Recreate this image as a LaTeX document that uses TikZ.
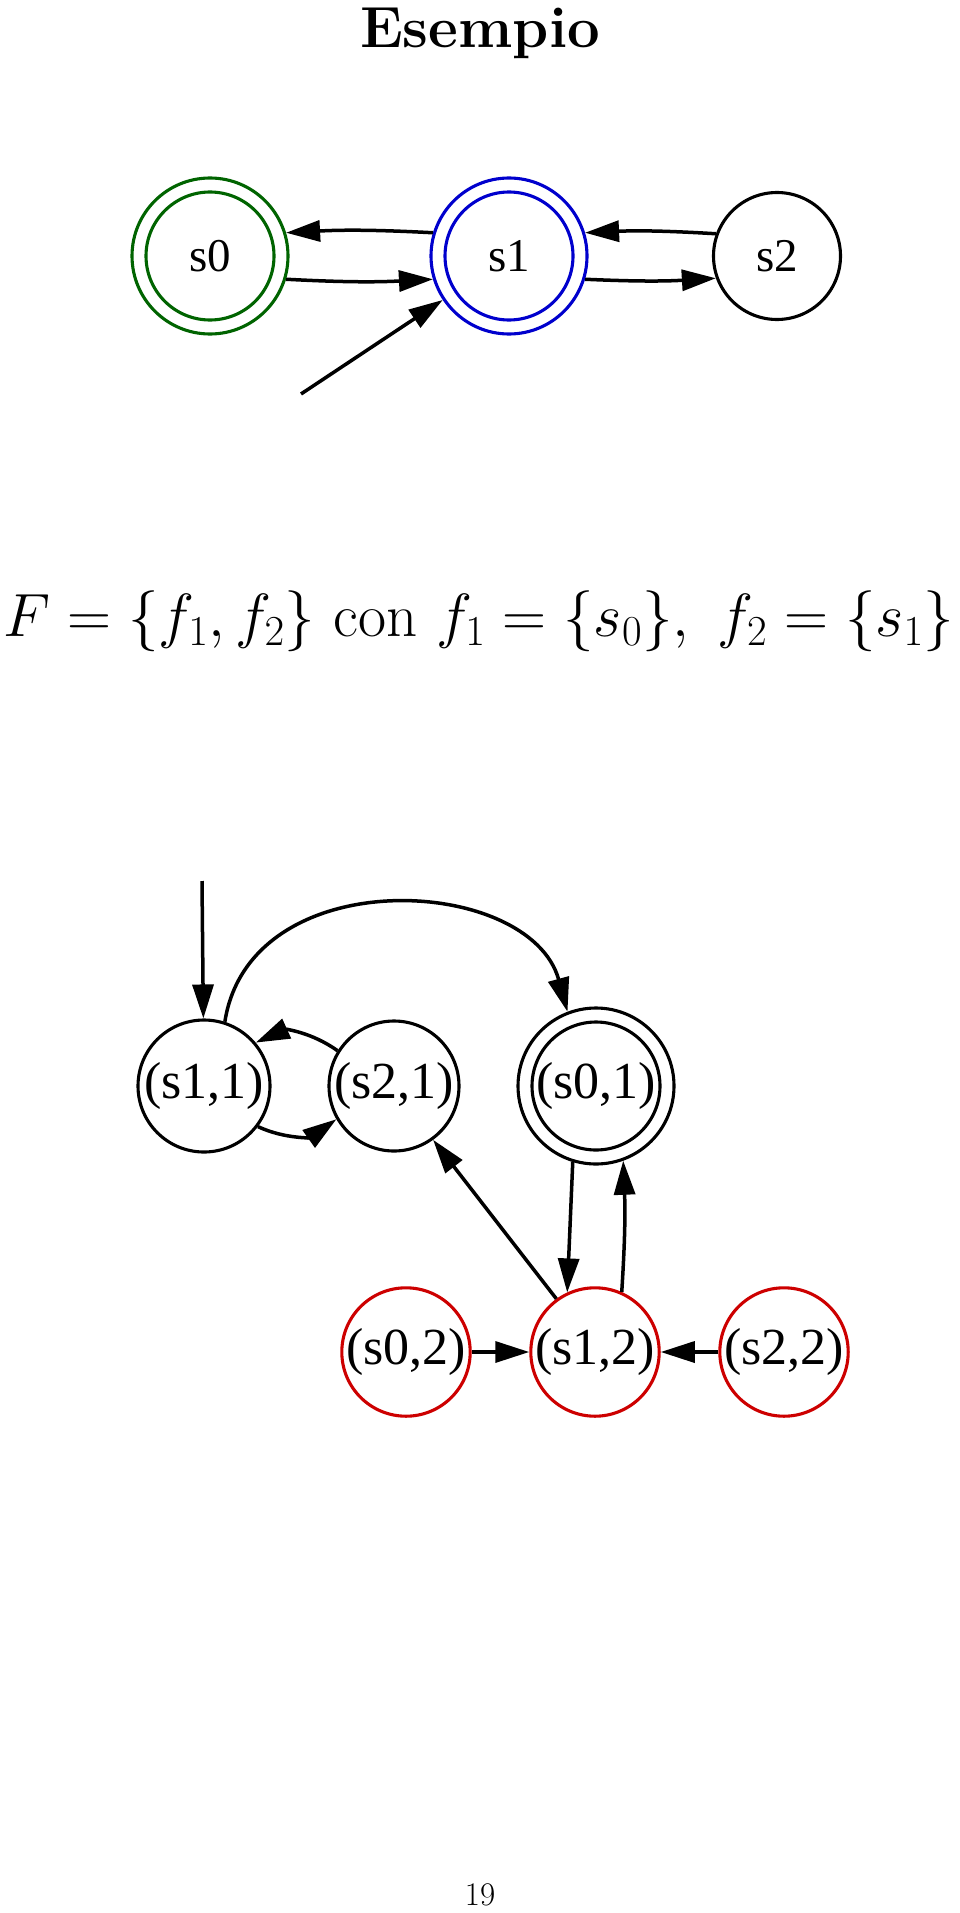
\RequirePackage{fix-cm}
\documentclass[tikz,border=0pt]{standalone}
\usepackage{fontspec}
\newfontfamily\gv{Liberation Serif}
\usetikzlibrary{arrows.meta}
\definecolor{gvgreen}{RGB}{0,100,0}
\definecolor{gvblue}{RGB}{0,0,205}
\definecolor{gvred}{RGB}{205,0,0}
\newcommand\fsA{\gv\fontsize{47}{50}\selectfont}
\newcommand\fsB{\gv\fontsize{52}{56}\selectfont}
\begin{document}
\begin{tikzpicture}[x=1pt,y=-1pt,line width=3.1pt,
  st/.style={circle,draw,inner sep=0pt,minimum size=#1},
  arr/.style={line width=3.5pt,-{Triangle[length=34pt,width=21pt]}}]
\useasboundingbox[fill=white] (0,0) rectangle (960,1913);
\node[anchor=base,font=\fontsize{58}{62}\selectfont\bfseries] (title) at (480,48) {Esempio};
% top automaton
\node[st=156pt,draw=gvgreen,font=\fsA] (s0) at (210,256) {s0};
\draw[gvgreen] (s0.center) circle[radius=64pt];
\node[st=156pt,draw=gvblue,font=\fsA] (s1) at (509,256) {s1};
\draw[gvblue] (s1.center) circle[radius=64pt];
\node[st=127pt,font=\fsA] (s2) at (777,256) {s2};
\coordinate (i1) at (301,394);
\draw[arr] (s1.163) to[bend right=3] (s0.17);
\draw[arr] (s0.-17) to[bend right=3] (s1.197);
\draw[arr] (s2.160) to[bend right=3] (s1.17);
\draw[arr] (s1.-17) to[bend right=3] (s2.200);
\draw[arr] (i1) -- (s1);
% formula
\node[anchor=base,font=\fontsize{61}{66}\selectfont] (F) at (479,636) {$F=\{f_1,f_2\}$ con $f_1=\{s_0\},\ f_2=\{s_1\}$};
% bottom automaton
\node[st=132pt,font=\fsB] (s11) at (204,1086) {(s1,1)};
\node[st=130pt,font=\fsB] (s21) at (394,1086) {(s2,1)};
\node[st=156pt,font=\fsB] (s01) at (596,1086) {(s0,1)};
\draw (s01.center) circle[radius=64pt];
\node[st=128pt,draw=gvred,font=\fsB] (s02) at (406,1352) {(s0,2)};
\node[st=128pt,draw=gvred,font=\fsB] (s12) at (595,1352) {(s1,2)};
\node[st=128pt,draw=gvred,font=\fsB] (s22) at (784,1352) {(s2,2)};
\coordinate (i2) at (202,881);
\draw[arr] (i2) -- (s11);
\draw[arr] (s11.72) .. controls (250,860) and (530,875) .. (s01.111);
\draw[arr] (s21.148) to[bend right=30] (s11.40);
\draw[arr] (s11.-37) to[bend right=30] (s21.210);
\draw[arr] (s12.126) -- (s21.-54);
\draw[arr] (s01.253) -- (s12.115);
\draw[arr] (s12.66) to[bend right=3] (s01.-70);
\draw[arr] (s02) -- (s12);
\draw[arr] (s22) -- (s12);
\node[anchor=base,font=\fontsize{33}{36}\selectfont] (pg) at (480,1905) {19};
\end{tikzpicture}
\end{document}
